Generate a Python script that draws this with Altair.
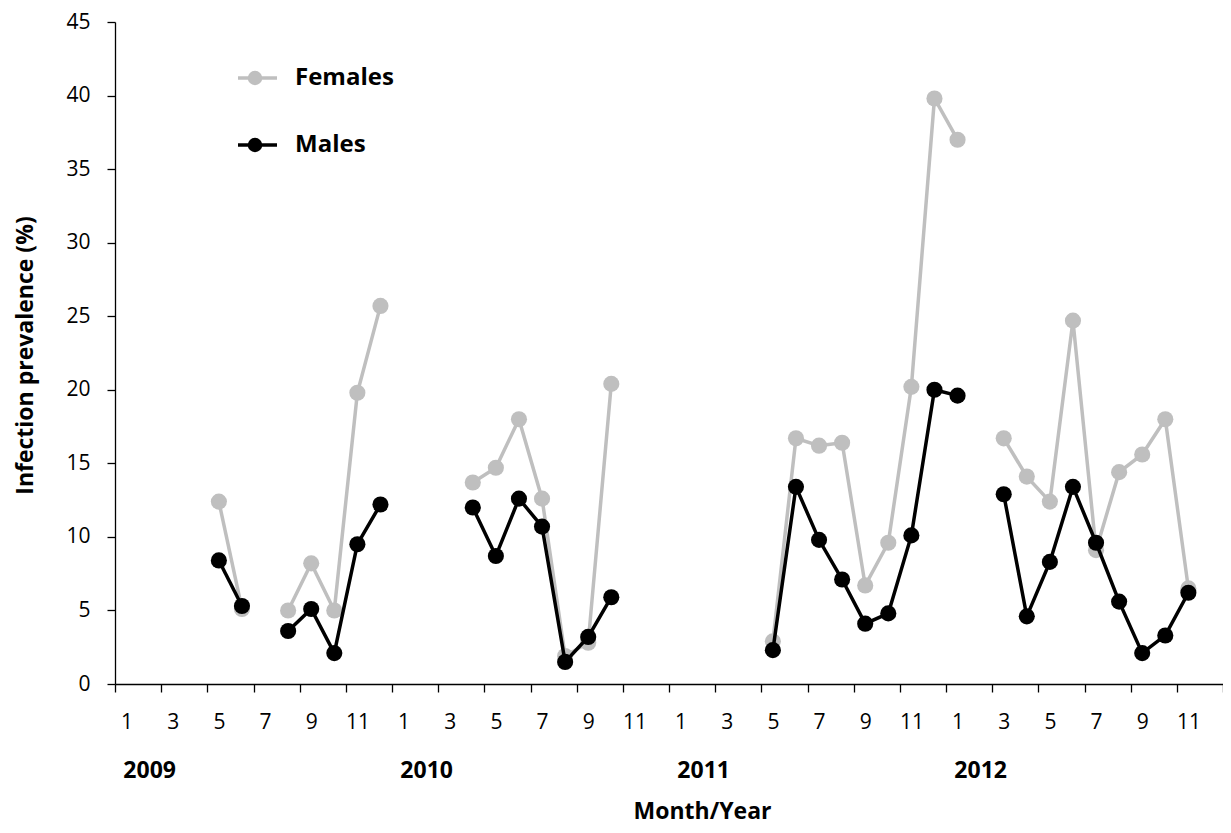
import json
import altair as alt
import pandas as pd

# ---------------- data ----------------
years = ["2009", "2010", "2011", "2012"]
month_numbers = list(range(1, 13))
series_names = ["Females", "Males"]
series_colors = ["#BFBFBF", "#000000"]

# monthly prevalence (%), Jan 2009 ... Dec 2012 (None = no sample)
females = [
    None, None, None, None, 12.4, 5.1, None, 5.0, 8.2, 5.0, 19.8, 25.7,    # 2009
    None, None, None, 13.7, 14.7, 18.0, 12.6, 1.9, 2.8, 20.4, None, None,  # 2010
    None, None, None, None, 2.9, 16.7, 16.2, 16.4, 6.7, 9.6, 20.2, 39.8,   # 2011
    37.0, None, 16.7, 14.1, 12.4, 24.7, 9.1, 14.4, 15.6, 18.0, 6.5, None,  # 2012
]
males = [
    None, None, None, None, 8.4, 5.3, None, 3.6, 5.1, 2.1, 9.5, 12.2,      # 2009
    None, None, None, 12.0, 8.7, 12.6, 10.7, 1.5, 3.2, 5.9, None, None,    # 2010
    None, None, None, None, 2.3, 13.4, 9.8, 7.1, 4.1, 4.8, 10.1, 20.0,     # 2011
    19.6, None, 12.9, 4.6, 8.3, 13.4, 9.6, 5.6, 2.1, 3.3, 6.2, None,       # 2012
]
y_ticks = list(range(0, 46, 5))
month_tick_labels = [str(m) if m % 2 == 1 else "" for _ in years for m in month_numbers]

# ---------------- build tables ----------------
n_months = len(years) * 12


def series_frame(name, values):
    rows, seg = [], 0
    for i, v in enumerate(values):
        if v is None:
            seg += 1
            continue
        rows.append({"series": name, "pos": i + 0.5, "value": v, "seg": f"{name}-{seg}"})
    return pd.DataFrame(rows)


df_f = series_frame(series_names[0], females)
df_m = series_frame(series_names[1], males)
df_years = pd.DataFrame({"year": years, "pos": [k * 12 + 1.5 for k in range(len(years))]})

# ---------------- layout ----------------
W, H = 1108, 662
FONT = "Open Sans"

x_scale = alt.Scale(domain=[0, n_months], nice=False, zero=False)
y_scale = alt.Scale(domain=[0, 45], nice=False, zero=True)

label_expr = json.dumps(month_tick_labels) + "[datum.value] || ''"

x_axis = alt.Axis(
    values=list(range(n_months + 1)),
    tickSize=8, tickColor="black", tickWidth=1.3,
    domainColor="black", domainWidth=1.3,
    labelExpr=label_expr, labelOffset=W / n_months / 2,
    labelFlush=False, labelOverlap=False, labelBaseline="alphabetic",
    labelPadding=36, labelFontSize=21, labelFont=FONT, labelColor="black",
    grid=False,
    title="Month/Year", titleFont=FONT, titleFontSize=23, titleFontWeight="bold",
    titleColor="black", titleBaseline="alphabetic", titleAlign="center",
    titleX=587, titleY=134,
)
y_axis = alt.Axis(
    values=y_ticks,
    tickSize=8, tickColor="black", tickWidth=1.3,
    domainColor="black", domainWidth=1.3,
    labelPadding=17, labelFontSize=21, labelFont=FONT, labelColor="black",
    grid=False,
    title="Infection prevalence (%)", titleFont=FONT, titleFontSize=23,
    titleFontWeight="bold", titleColor="black", titleAngle=270,
    titleBaseline="middle", titleAlign="center", titleX=-90, titleY=333,
)


def series_layers(df, color):
    base = alt.Chart(df).encode(
        x=alt.X("pos:Q", scale=x_scale, axis=x_axis),
        y=alt.Y("value:Q", scale=y_scale, axis=y_axis),
    )
    line = base.mark_line(color=color, strokeWidth=3.5).encode(detail="seg:N")
    pts = base.mark_point(filled=True, color=color, size=260, opacity=1)
    return [line, pts]


years_text = alt.Chart(df_years).mark_text(
    font=FONT, fontSize=23, fontWeight="bold", color="black",
    baseline="alphabetic", align="center",
).encode(
    x=alt.X("pos:Q", scale=x_scale),
    y=alt.value(756),
    text="year:N",
)


def legend_entry(name, color, ypix):
    d = pd.DataFrame({"label": [name]})
    c = alt.Chart(d)
    rule = c.mark_rule(color=color, strokeWidth=3.5).encode(
        x=alt.value(123), x2=alt.value(162), y=alt.value(ypix))
    dot = c.mark_point(filled=True, color=color, size=210, opacity=1).encode(
        x=alt.value(140), y=alt.value(ypix))
    txt = c.mark_text(font=FONT, fontSize=24, fontWeight="bold", color="black",
                      align="left", baseline="middle").encode(
        x=alt.value(180), y=alt.value(ypix), text="label:N")
    return [rule, dot, txt]


layers = (
    series_layers(df_f, series_colors[0])
    + series_layers(df_m, series_colors[1])
    + [years_text]
    + legend_entry(series_names[0], series_colors[0], 56)
    + legend_entry(series_names[1], series_colors[1], 123)
)

chart = alt.layer(*layers).properties(
    width=W, height=H,
    autosize=alt.AutoSizeParams(type="none"),
    padding={"left": 107, "top": 14, "right": 0, "bottom": 141},
    background="white",
).configure_view(stroke="transparent")

chart.save("out.html", embed_options={"renderer": "svg", "actions": False})
